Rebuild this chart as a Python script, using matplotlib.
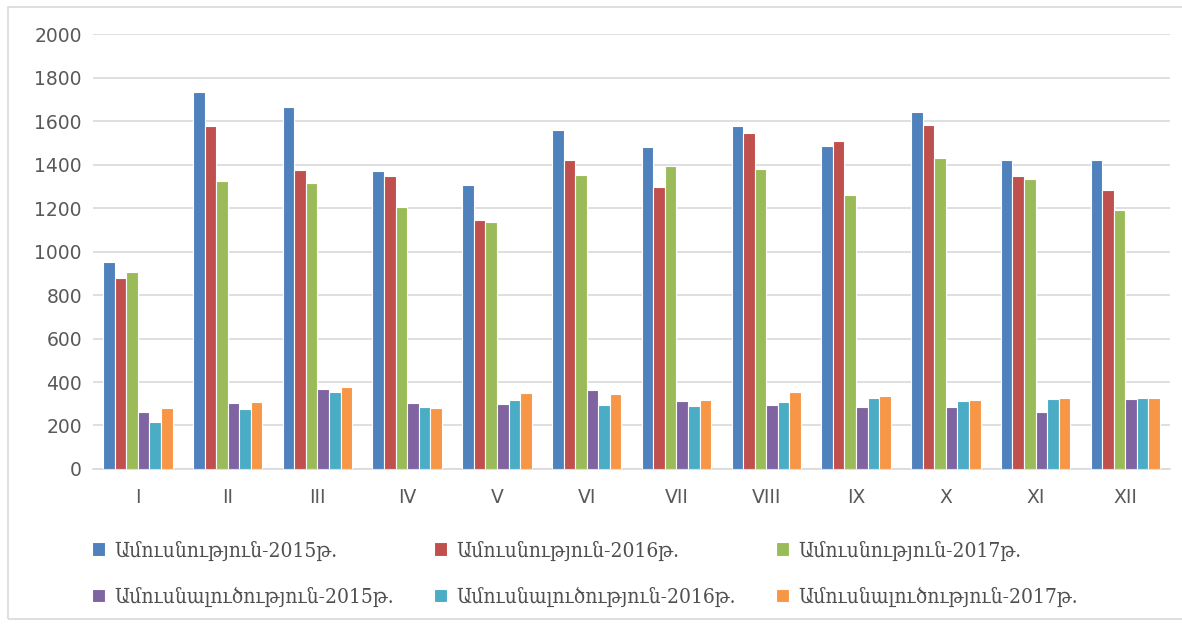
import matplotlib.pyplot as plt
import numpy as np
from matplotlib.patches import Rectangle

months = ['I', 'II', 'III', 'IV', 'V', 'VI', 'VII', 'VIII', 'IX', 'X', 'XI', 'XII']

marriage_2015 = [951, 1732, 1664, 1370, 1307, 1559, 1482, 1575, 1483, 1643, 1420, 1422]
marriage_2016 = [877, 1577, 1375, 1348, 1146, 1420, 1296, 1546, 1509, 1583, 1345, 1281]
marriage_2017 = [907, 1322, 1315, 1204, 1137, 1350, 1394, 1378, 1261, 1428, 1333, 1189]
divorce_2015 = [264, 305, 367, 302, 298, 364, 314, 295, 287, 285, 261, 324]
divorce_2016 = [218, 275, 354, 287, 319, 293, 288, 310, 327, 314, 324, 327]
divorce_2017 = [281, 310, 379, 279, 350, 347, 319, 356, 337, 318, 328, 328]

labels = ['Ամուսնություն-2015թ.', 'Ամուսնություն-2016թ.', 'Ամուսնություն-2017թ.',
          'Ամուսնալուծություն-2015թ.', 'Ամուսնալուծություն-2016թ.', 'Ամուսնալուծություն-2017թ.']
colors = ['#4F81BD', '#C0504D', '#9BBB59', '#8064A2', '#4BACC6', '#F79646']

series = [marriage_2015, marriage_2016, marriage_2017, divorce_2015, divorce_2016, divorce_2017]

fig = plt.figure(figsize=(11.82, 6.24), dpi=100)
ax = fig.add_axes([0.0787, 0.2484, 0.9113, 0.6971])

x = np.arange(len(months))
w = 0.129
for i, (vals, c, lab) in enumerate(zip(series, colors, labels)):
    ax.bar(x + (i - 2.5) * w, vals, width=w, color=c, edgecolor='white', linewidth=0.8, label=lab, zorder=3)

ax.set_xlim(-0.5, 11.5)
ax.set_ylim(0, 2000)
ax.set_yticks(range(0, 2001, 200))
ax.set_xticks(x)
ax.set_xticklabels(months)
ax.grid(axis='y', color='#D9D9D9', linewidth=1.2, zorder=0)
for s in ['left', 'right', 'top']:
    ax.spines[s].set_visible(False)
ax.spines['bottom'].set_color('#D9D9D9')
ax.spines['bottom'].set_linewidth(1.2)
ax.tick_params(axis='both', length=0, labelsize=13.5, labelcolor='#595959')
ax.tick_params(axis='y', pad=8)
ax.tick_params(axis='x', pad=14)

# legend is filled row by row in the original
handles, labs = ax.get_legend_handles_labels()
order = [0, 3, 1, 4, 2, 5]
leg = fig.legend([handles[k] for k in order], [labs[k] for k in order], ncol=3,
                 loc='upper left', bbox_to_anchor=(0.062, 0.164),
                 frameon=False, handlelength=0.6, handleheight=0.6, handletextpad=0.45,
                 columnspacing=1.95, labelspacing=1.25,
                 prop={'family': ['DejaVu Serif', 'DejaVu Sans'], 'size': 15, 'stretch': 'condensed'})
for t in leg.get_texts():
    t.set_color('#505050')

fig.patches.append(Rectangle((8 / 1182, 5 / 624), 1.0, 612 / 624, transform=fig.transFigure,
                             fill=False, edgecolor='#D9D9D9', linewidth=1.2))

fig.savefig('out.png', dpi=100)
